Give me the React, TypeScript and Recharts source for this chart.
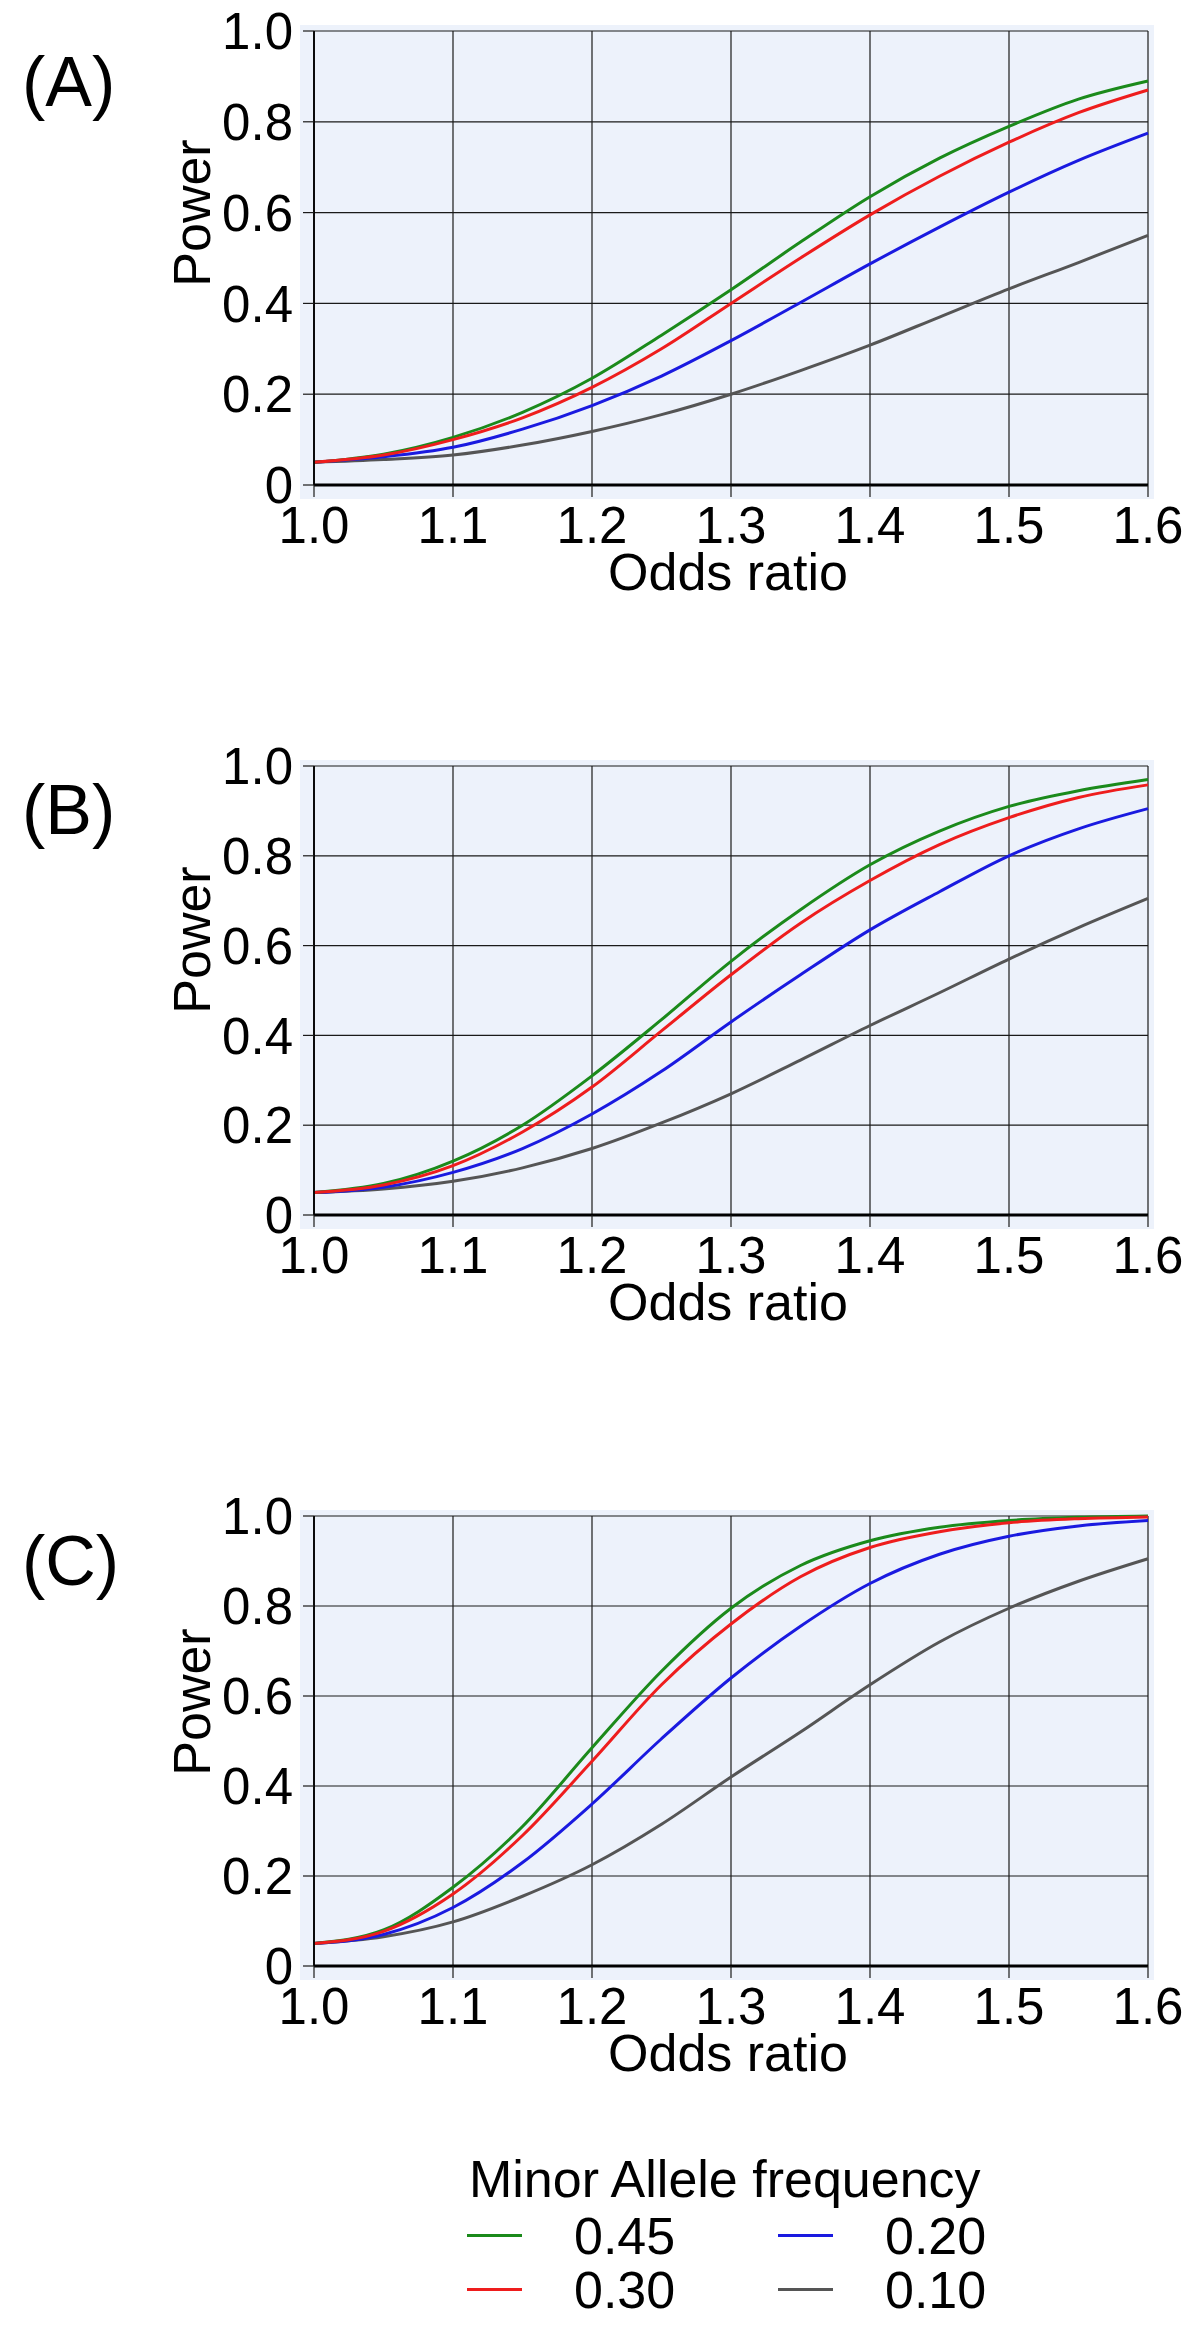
import React from 'react';
import { LineChart, Line, XAxis, YAxis, CartesianGrid, Legend } from 'recharts';

const FONT = '"Liberation Sans", Arial, Helvetica, sans-serif';

const oddsRatio = [1.0, 1.05, 1.1, 1.15, 1.2, 1.25, 1.3, 1.35, 1.4, 1.45, 1.5, 1.55, 1.6];
const xTicks = [1.0, 1.1, 1.2, 1.3, 1.4, 1.5, 1.6];
const yTicks = [0, 0.2, 0.4, 0.6, 0.8, 1.0];

const mafNames = ['0.45', '0.30', '0.20', '0.10'];
const mafKeys = ['p45', 'p30', 'p20', 'p10'];
const mafColors = ['#1b8a1b', '#ee1d1d', '#1a1ae0', '#555555'];

// (A)
const powerA45 = [0.05, 0.068, 0.105, 0.16, 0.235, 0.33, 0.43, 0.535, 0.635, 0.72, 0.79, 0.85, 0.89];
const powerA30 = [0.05, 0.066, 0.1, 0.148, 0.215, 0.3, 0.4, 0.5, 0.595, 0.68, 0.755, 0.82, 0.87];
const powerA20 = [0.05, 0.062, 0.083, 0.123, 0.175, 0.24, 0.318, 0.402, 0.487, 0.568, 0.645, 0.715, 0.775];
const powerA10 = [0.05, 0.056, 0.066, 0.088, 0.118, 0.155, 0.2, 0.252, 0.308, 0.37, 0.432, 0.49, 0.55];
// (B)
const powerB45 = [0.05, 0.07, 0.12, 0.2, 0.31, 0.435, 0.565, 0.68, 0.78, 0.855, 0.91, 0.945, 0.97];
const powerB30 = [0.05, 0.067, 0.11, 0.185, 0.285, 0.41, 0.535, 0.65, 0.745, 0.825, 0.885, 0.93, 0.958];
const powerB20 = [0.05, 0.062, 0.095, 0.148, 0.225, 0.32, 0.43, 0.535, 0.635, 0.72, 0.8, 0.86, 0.905];
const powerB10 = [0.05, 0.058, 0.075, 0.105, 0.148, 0.205, 0.27, 0.345, 0.422, 0.495, 0.57, 0.64, 0.705];
// (C)
const powerC45 = [0.05, 0.08, 0.175, 0.31, 0.485, 0.655, 0.795, 0.89, 0.945, 0.975, 0.99, 0.997, 1.0];
const powerC30 = [0.05, 0.077, 0.16, 0.29, 0.455, 0.625, 0.76, 0.865, 0.93, 0.965, 0.985, 0.994, 0.998];
const powerC20 = [0.05, 0.07, 0.13, 0.23, 0.36, 0.505, 0.64, 0.755, 0.85, 0.915, 0.955, 0.978, 0.99];
const powerC10 = [0.05, 0.065, 0.098, 0.155, 0.225, 0.315, 0.42, 0.52, 0.625, 0.72, 0.795, 0.855, 0.905];

const panels = [
  { tag: '(A)', tagY: 106, plotTop: 31, plotBottom: 485, powerY: 182, series: [powerA45, powerA30, powerA20, powerA10] },
  { tag: '(B)', tagY: 834, plotTop: 766, plotBottom: 1215, powerY: 174, series: [powerB45, powerB30, powerB20, powerB10] },
  { tag: '(C)', tagY: 1585, plotTop: 1516, plotBottom: 1966, powerY: 186, series: [powerC45, powerC30, powerC20, powerC10] },
];

const PLOT_LEFT = 314;
const PLOT_RIGHT = 1148;
const Y_W = 60;
const PAD_TOP = 40;
const AXIS_H = 130;
const BG = '#edf2fb';
const LEGEND_TOP = 2153;

// draw order: grey first, red last (red sits on top at OR = 1)
const drawOrder = [3, 2, 0, 1];

function renderLegend(props: any) {
  const payload = props.payload || [];
  const colorOf = (name: string) => {
    const hit = payload.find((p: any) => p.value === name);
    return hit ? hit.color : '#000';
  };
  const item = (name: string, left: number, top: number) => (
    <div key={name}>
      <div style={{ position: 'absolute', left, top: top + 24, width: 55, height: 2.5, background: colorOf(name) }} />
      <div style={{ position: 'absolute', left: left + 107, top, fontSize: 52, lineHeight: '52px', color: '#000' }}>{name}</div>
    </div>
  );
  return (
    <div style={{ position: 'relative', width: 600, height: 165, fontFamily: FONT }}>
      <div style={{ position: 'absolute', left: 2, top: 0, fontSize: 52, lineHeight: '52px', color: '#000', whiteSpace: 'nowrap' }}>
        Minor Allele frequency
      </div>
      {item('0.45', 0, 57)}
      {item('0.20', 311, 57)}
      {item('0.30', 0, 111)}
      {item('0.10', 311, 111)}
    </div>
  );
}

function PowerPanel({ panel, showLegend }: { panel: any; showLegend: boolean }) {
  const chartTop = panel.plotTop - PAD_TOP;
  const plotH = panel.plotBottom - panel.plotTop;
  const extra = showLegend ? 220 : 0;
  const height = PAD_TOP + plotH + AXIS_H + extra;
  const data = oddsRatio.map((or, i) => {
    const row: any = { or };
    mafKeys.forEach((k, s) => (row[k] = panel.series[s][i]));
    return row;
  });
  const tickStyle = { fill: '#000', fontSize: 51, fontFamily: FONT };

  return (
    <>
      <div
        style={{
          position: 'absolute',
          left: PLOT_LEFT - 14,
          top: panel.plotTop - 6,
          width: PLOT_RIGHT - PLOT_LEFT + 20,
          height: plotH + 20,
          background: BG,
        }}
      />
      <div style={{ position: 'absolute', left: 0, top: chartTop }}>
        <LineChart
          width={1200}
          height={height}
          data={data}
          margin={{ top: PAD_TOP, right: 1200 - PLOT_RIGHT, bottom: extra, left: PLOT_LEFT - Y_W }}
        >
          <CartesianGrid stroke="#1a1a1a" strokeWidth={1.2} />
          <XAxis
            type="number"
            dataKey="or"
            domain={[1, 1.6]}
            ticks={xTicks}
            interval={0}
            height={AXIS_H}
            tickSize={12}
            tickMargin={10}
            tick={tickStyle}
            tickFormatter={(v: number) => v.toFixed(1)}
            axisLine={{ stroke: '#000', strokeWidth: 3 }}
            tickLine={{ stroke: '#1a1a1a', strokeWidth: 1.2 }}
            label={() => (
              <text
                x={(PLOT_LEFT + PLOT_RIGHT) / 2 - 3}
                y={PAD_TOP + plotH + 105}
                textAnchor="middle"
                fontSize={52}
                fontFamily={FONT}
                fill="#000"
              >
                Odds ratio
              </text>
            )}
          />
          <YAxis
            type="number"
            domain={[0, 1]}
            ticks={yTicks}
            interval={0}
            width={Y_W}
            tickSize={11}
            tickMargin={10}
            tick={tickStyle}
            tickFormatter={(v: number) => (v === 0 ? '0' : v.toFixed(1))}
            axisLine={{ stroke: '#000', strokeWidth: 1.8 }}
            tickLine={{ stroke: '#1a1a1a', strokeWidth: 1.2 }}
            label={() => (
              <text
                x={PLOT_LEFT - 104}
                y={PAD_TOP + panel.powerY}
                transform={`rotate(-90, ${PLOT_LEFT - 104}, ${PAD_TOP + panel.powerY})`}
                textAnchor="middle"
                fontSize={52}
                fontFamily={FONT}
                fill="#000"
              >
                Power
              </text>
            )}
          />
          {drawOrder.map((s) => (
            <Line
              key={mafKeys[s]}
              type="monotone"
              dataKey={mafKeys[s]}
              name={mafNames[s]}
              stroke={mafColors[s]}
              strokeWidth={3}
              dot={false}
              activeDot={false}
              isAnimationActive={false}
            />
          ))}
          {showLegend && (
            <Legend
              layout="horizontal"
              verticalAlign="middle"
              align="center"
              wrapperStyle={{ top: LEGEND_TOP - chartTop, left: 467, width: 600, height: 165 }}
              content={renderLegend}
            />
          )}
        </LineChart>
      </div>
    </>
  );
}

export default function App() {
  return (
    <div
      style={{
        position: 'absolute',
        left: 0,
        top: 0,
        width: 1200,
        height: 2325,
        overflow: 'hidden',
        background: '#fff',
        fontFamily: FONT,
      }}
    >
      {panels.map((p, i) => (
        <PowerPanel key={p.tag} panel={p} showLegend={i === panels.length - 1} />
      ))}
      <svg width={1200} height={2325} style={{ position: 'absolute', left: 0, top: 0, pointerEvents: 'none' }}>
        {panels.map((p) => (
          <text key={p.tag} x={22} y={p.tagY} fontSize={70} fontFamily={FONT} fill="#000">
            {p.tag}
          </text>
        ))}
      </svg>
    </div>
  );
}
